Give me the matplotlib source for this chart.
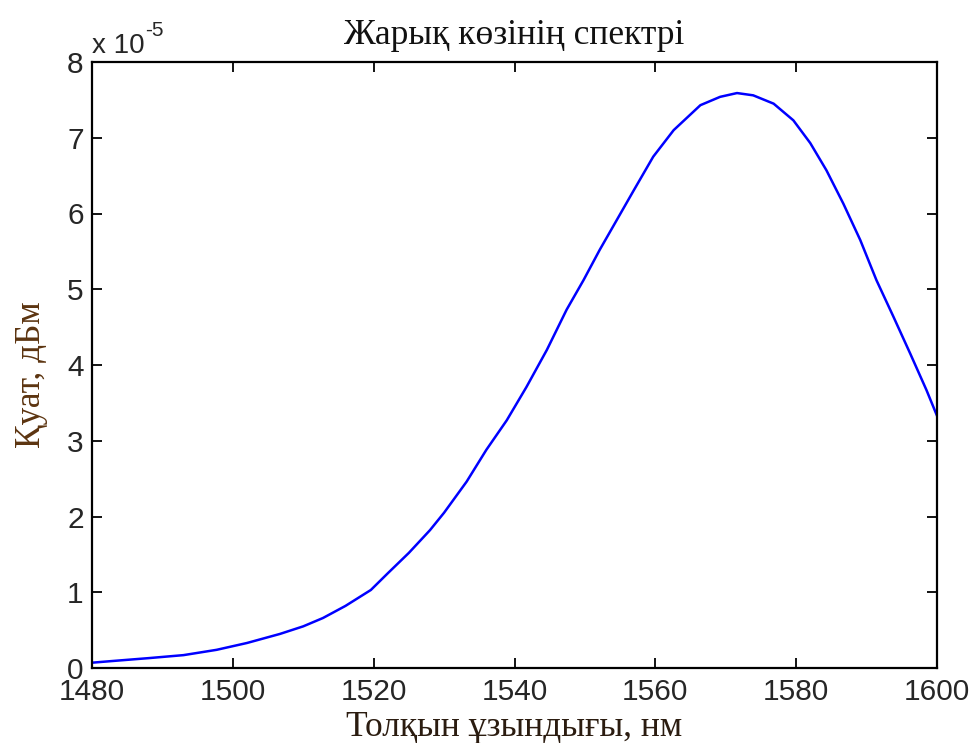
import numpy as np
import matplotlib
matplotlib.use("Agg")
import matplotlib.pyplot as plt
from matplotlib.ticker import FuncFormatter

title = "Жарық көзінің спектрі"
xlabel = "Толқын ұзындығы, нм"
ylabel = "Қуат, дБм"

wavelength = [1480, 1482.6, 1488.0, 1493.0, 1497.7, 1502.0, 1506.7, 1510.0,
              1512.8, 1516.0, 1519.6, 1522.0, 1525.0, 1528.0, 1530.0, 1533.2,
              1536.0, 1538.9, 1541.7, 1544.6, 1547.4, 1549.8, 1552.1, 1554.5,
              1556.9, 1559.7, 1562.6, 1566.4, 1569.2, 1571.6, 1573.9, 1576.8,
              1579.6, 1582.0, 1584.3, 1586.7, 1589.1, 1591.4, 1593.8, 1596.2,
              1598.5, 1600]
power_e5 = [0.07, 0.09, 0.13, 0.17, 0.24, 0.33, 0.45, 0.55,
            0.66, 0.82, 1.03, 1.25, 1.52, 1.82, 2.05, 2.46,
            2.88, 3.27, 3.71, 4.20, 4.73, 5.12, 5.52, 5.91,
            6.30, 6.75, 7.10, 7.43, 7.54, 7.59, 7.56, 7.45,
            7.23, 6.93, 6.57, 6.13, 5.65, 5.12, 4.64, 4.15,
            3.67, 3.33]
scale = 1e-5
xticks = [1480, 1500, 1520, 1540, 1560, 1580, 1600]
yticks_e5 = [0, 1, 2, 3, 4, 5, 6, 7, 8]

fig = plt.figure(figsize=(9.71, 7.43), dpi=100)
ax = fig.add_axes([92/971, 1-668/743, (937-92)/971, (668-62)/743])

x = np.array(wavelength)
y = np.array(power_e5) * scale
ax.plot(x, y, color='#0000ff', lw=1.8, solid_joinstyle='round')

ax.set_xlim(1480, 1600)
ax.set_ylim(0, 8 * scale)
ax.set_xticks(xticks)
ax.set_yticks(np.array(yticks_e5) * scale)
ax.yaxis.set_major_formatter(FuncFormatter(lambda v, p: f"{v/scale:.0f}"))

tickfont = 'Liberation Sans'
for lab in ax.get_xticklabels() + ax.get_yticklabels():
    lab.set_fontfamily(tickfont)
    lab.set_fontsize(21.5)
    lab.set_color('#262626')

ax.tick_params(direction='in', length=7, width=1.3, top=True, right=True)
ax.tick_params(axis='x', pad=7)
ax.tick_params(axis='y', pad=6)
for s in ax.spines.values():
    s.set_linewidth(1.6)

ax.text(0.0, 1.005, "x 10", transform=ax.transAxes, fontsize=20,
        fontfamily=tickfont, color='#262626', ha='left', va='bottom')
ax.text(0.063, 1.036, "-5", transform=ax.transAxes, fontsize=15,
        fontfamily=tickfont, color='#262626', ha='left', va='bottom')

ax.set_title(title, fontfamily='Liberation Serif', fontsize=25.5, color='#111111', pad=13)
ax.set_xlabel(xlabel, fontfamily='Liberation Serif', fontsize=25.5, color='#2b1c10', labelpad=4)
ax.set_ylabel(ylabel, fontfamily='Liberation Serif', fontsize=25.5, color='#5c3410', labelpad=14)
ax.yaxis.label.set_y(0.484)

fig.savefig("out.png", dpi=100)
